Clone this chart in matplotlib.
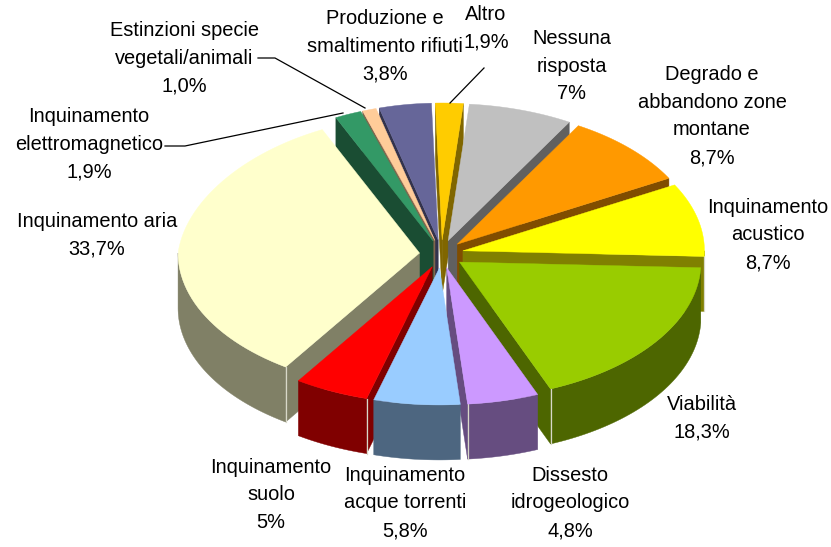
import numpy as np
import matplotlib
matplotlib.use("Agg")
import matplotlib.pyplot as plt
from matplotlib.colors import to_rgb
from matplotlib.patches import Polygon

categories = ["Altro", "Nessuna\nrisposta", "Degrado e\nabbandono zone\nmontane", "Inquinamento\nacustico",
              "Viabilità", "Dissesto\nidrogeologico", "Inquinamento\nacque torrenti", "Inquinamento\nsuolo",
              "Inquinamento aria", "Inquinamento\nelettromagnetico", "Estinzioni specie\nvegetali/animali",
              "Produzione e\nsmaltimento rifiuti"]
values = [1.9, 7.0, 8.7, 8.7, 18.3, 4.8, 5.8, 5.0, 33.7, 1.9, 1.0, 3.8]
value_labels = ["1,9%", "7%", "8,7%", "8,7%", "18,3%", "4,8%", "5,8%", "5%", "33,7%", "1,9%", "1,0%", "3,8%"]
colors = ["#FFCC00", "#C0C0C0", "#FF9900", "#FFFF00", "#99CC00", "#CC99FF", "#99CCFF", "#FF0000",
          "#FFFFCC", "#339966", "#FFCC99", "#666699"]
label_pos = [(486, 28), (572, 66), (712, 116), (768, 235), (702, 418), (570, 503), (405, 503), (271, 495),
             (97, 235), (89, 144), (184, 58), (385, 46)]

CX, CY, RX, RY = 441.5, 254, 241.5, 137
EX, EY = 22, 14
DEPTH = 55
START = -1.75
BACK_SHRINK_LEFT = 0.08

plt.rcParams["font.family"] = ["Liberation Sans", "DejaVu Sans"]
fig = plt.figure(figsize=(8.31, 5.47), dpi=100)
ax = fig.add_axes([0, 0, 1, 1])
ax.set_xlim(0, 831)
ax.set_ylim(547, 0)
ax.axis("off")


def pt(deg):
    t = np.radians(deg)
    c, s = np.cos(t), np.sin(t)
    shrink = np.where(s < 0, 1 - BACK_SHRINK_LEFT * np.maximum(c, 0), 1.0)
    return np.array([RX * s * shrink, -RY * c]).T


def dark(c):
    return tuple(v * 0.5 for v in to_rgb(c))


def poly(points, color, z):
    ax.add_patch(Polygon(points, closed=True, facecolor=color, edgecolor=color, lw=0.3, zorder=z))


vals = np.array(values)
edges = START + np.concatenate([[0], np.cumsum(vals)]) / vals.sum() * 360
mids = (edges[:-1] + edges[1:]) / 2
order = np.argsort(-np.cos(np.radians(mids)))
down = np.array([0, DEPTH])

for rank, i in enumerate(order):
    a, b, m = edges[i], edges[i + 1], mids[i]
    tip = np.array([CX + EX * np.sin(np.radians(m)), CY - EY * np.cos(np.radians(m))])
    arc = tip + pt(np.linspace(a, b, 60))
    side = dark(colors[i])
    z = 2 + rank
    # cut faces that turn towards the viewer
    if np.sin(np.radians(a)) < 0:
        poly([tip, arc[0], arc[0] + down, tip + down], side, z)
    if np.sin(np.radians(b)) > 0:
        poly([tip, arc[-1], arc[-1] + down, tip + down], side, z)
    # outer rim on the front half
    lo, hi = max(a, 90), min(b, 270)
    if hi > lo:
        wall = tip + pt(np.linspace(lo, hi, 50))
        poly(np.vstack([wall, (wall + down)[::-1]]), side, z)
        if np.sin(np.radians(b)) > 0 and b < 270:
            ax.plot([wall[-1][0]] * 2, [wall[-1][1], wall[-1][1] + DEPTH], color="#D8D8C8", lw=0.9, zorder=z)
        if np.sin(np.radians(a)) < 0 and a > 90:
            ax.plot([wall[0][0]] * 2, [wall[0][1], wall[0][1] + DEPTH], color="#D8D8C8", lw=0.9, zorder=z)
    poly(np.vstack([tip, arc]), colors[i], z + 0.5)

for cat, val, (x, y) in zip(categories, value_labels, label_pos):
    ax.text(x, y, f"{cat}\n{val}", ha="center", va="center", ma="center", fontsize=14.4,
            linespacing=1.58, color="black", zorder=50)

leaders = [([165, 185, 343], [146, 146, 113]), ([258, 275, 365], [58, 58, 108]), ([484, 484, 450], [68, 68, 103])]
for xs, ys in leaders:
    ax.plot(xs, ys, color="black", lw=0.9, zorder=40)

fig.savefig("out.png", dpi=100)
